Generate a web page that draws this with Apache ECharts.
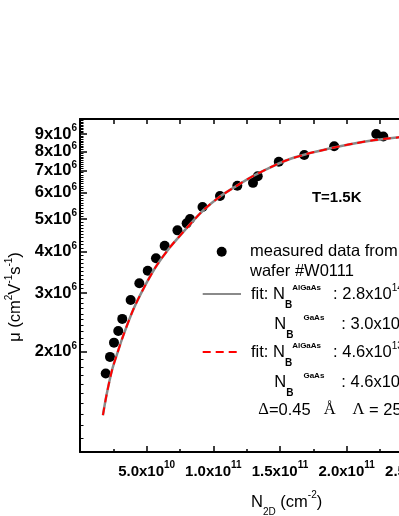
<!DOCTYPE html>
<html><head><meta charset="utf-8">
<script src="https://cdn.jsdelivr.net/npm/echarts@6/dist/echarts.min.js"></script>
<style>html,body{margin:0;padding:0;background:#fff}#c{width:399px;height:516px}</style>
</head><body><div id="c"></div>
<script>
// ---- data ----
const measuredX = [1.93e10, 2.25e10, 2.55e10, 2.87e10, 3.17e10, 3.80e10, 4.45e10, 5.08e10, 5.70e10, 6.35e10,
  7.31e10, 8.0e10, 8.25e10, 9.19e10, 1.05e11, 1.18e11, 1.2975e11, 1.333e11, 1.491e11, 1.682e11,
  1.9065e11, 2.222e11, 2.275e11];
const measuredY = [1.72e6, 1.93e6, 2.13e6, 2.31e6, 2.51e6, 2.86e6, 3.21e6, 3.50e6, 3.82e6, 4.16e6,
  4.63e6, 4.86e6, 5.01e6, 5.44e6, 5.87e6, 6.30e6, 6.43e6, 6.73e6, 7.44e6, 7.80e6,
  8.28e6, 9.02e6, 8.86e6];
const fitX = [1.72e10, 2.0e10, 2.4e10, 2.8e10, 3.25e10, 4.0e10, 4.9e10, 5.75e10, 6.75e10, 7.75e10,
  8.5e10, 9.25e10, 1.05e11, 1.175e11, 1.3e11, 1.425e11, 1.55e11, 1.7e11, 1.825e11, 1.95e11,
  2.075e11, 2.2e11, 2.325e11, 2.5e11];
const fitGrayY = [1.29e6, 1.49e6, 1.76e6, 1.98e6, 2.24e6, 2.68e6, 3.17e6, 3.63e6, 4.12e6, 4.58e6,
  4.95e6, 5.32e6, 5.85e6, 6.30e6, 6.75e6, 7.15e6, 7.52e6, 7.85e6, 8.07e6, 8.28e6,
  8.47e6, 8.63e6, 8.75e6, 8.90e6];
const fitRedY = [1.29e6, 1.49e6, 1.76e6, 1.98e6, 2.24e6, 2.68e6, 3.17e6, 3.63e6, 4.12e6, 4.58e6,
  4.95e6, 5.32e6, 5.85e6, 6.30e6, 6.75e6, 7.15e6, 7.52e6, 7.85e6, 8.07e6, 8.28e6,
  8.47e6, 8.63e6, 8.75e6, 8.90e6];
const xTickValues = [5e10, 1e11, 1.5e11, 2e11, 2.5e11, 3e11];
const xTickMantissa = ['5.0', '1.0', '1.5', '2.0', '2.5', '3.0'];
const xTickExponent = ['10', '11', '11', '11', '11', '11'];
const yTickValues = [2e6, 3e6, 4e6, 5e6, 6e6, 7e6, 8e6, 9e6];
const yTickMantissa = ['2', '3', '4', '5', '6', '7', '8', '9'];
const yTickExponent = '6';
const seriesNames = ['measured data from wafer #W0111', 'fit 1', 'fit 2'];

// ---- chart ----
const FF = '"Liberation Sans", Arial, sans-serif';
const SERIF = '"Liberation Serif", "Times New Roman", serif';
const yMinor = [];
for (let k = 11; k < 100; k++) { if (k % 10 !== 0) yMinor.push(Math.log10(k * 1e5)); }
const yTickPos = yTickValues.map(v => Math.log10(v));
const yLabelPosA = yTickPos.filter((_, i) => i % 2 === 0);
const yLabelPosB = yTickPos.filter((_, i) => i % 2 === 1);

const pairs = (xs, ys) => xs.map((x, i) => [x, ys[i]]);

const yLabelStyle = pos => ({
  customValues: pos, margin: 3, lineHeight: 12,
  showMinLabel: true, showMaxLabel: true, hideOverlap: false,
  formatter: v => { const i = yTickPos.findIndex(t => Math.abs(t - v) < 1e-6); return i < 0 ? '' : `{m|${yTickMantissa[i]}x10}{e|${yTickExponent}}`; },
  rich: {
    m: {fontSize: 16.5, fontWeight: 'bold', fontFamily: FF, color: '#000'},
    e: {fontSize: 10, fontWeight: 'bold', fontFamily: FF, color: '#000', padding: [0, 0, 11, 0]}
  }
});

const legendRich = {
  n: {fontSize: 16.5, fontFamily: FF, color: '#000'},
  sub: {fontSize: 10, fontWeight: 'bold', fontFamily: FF, color: '#000', padding: [23, 0, 0, 0]},
  sup: {fontSize: 8, fontWeight: 'bold', fontFamily: FF, color: '#000', padding: [0, 0, 12, 0]},
  sup2: {fontSize: 8, fontWeight: 'bold', fontFamily: FF, color: '#000', padding: [0, 0, 12, 10]},
  c1: {fontSize: 16.5, fontFamily: FF, color: '#000', padding: [0, 0, 0, 12]},
  c2: {fontSize: 16.5, fontFamily: FF, color: '#000', padding: [0, 0, 0, 17]},
  e: {fontSize: 10, fontFamily: FF, color: '#000', padding: [0, 0, 12, 0]},
  ind: {fontSize: 16.5, width: 23.3}
};
const legendTexts = {
  [seriesNames[0]]: '{n|measured data from}\n{n|wafer #W0111}',
  [seriesNames[1]]: '{n|fit: N}{sub|B}{sup|AlGaAs}{c1|: 2.8x10}{e|14}\n{ind| }{n|N}{sub|B}{sup2|GaAs}{c2|: 3.0x10}{e|13}',
  [seriesNames[2]]: '{n|fit: N}{sub|B}{sup|AlGaAs}{c1|: 4.6x10}{e|13}\n{ind| }{n|N}{sub|B}{sup2|GaAs}{c2|: 4.6x10}{e|13}'
};

const chart = echarts.init(document.getElementById('c'), null, {renderer: 'canvas'});
chart.setOption({
  animation: false,
  backgroundColor: '#fff',
  grid: {left: 80, top: 119, width: 413.3, height: 333, containLabel: false, outerBoundsMode: 'none'},
  xAxis: [{
    type: 'value', min: 0, max: 3.1e11, interval: 5e10, position: 'bottom',
    axisLine: {show: true, lineStyle: {color: '#000', width: 2}},
    axisTick: {show: true, inside: true, length: 6, lineStyle: {color: '#000', width: 1.5}},
    minorTick: {show: true, splitNumber: 2, length: 3, lineStyle: {color: '#000', width: 1.5}},
    splitLine: {show: false},
    axisLabel: {
      customValues: xTickValues, margin: 8, lineHeight: 24, hideOverlap: false,
      formatter: v => { const i = xTickValues.findIndex(t => Math.abs(t - v) < 1); return i < 0 ? '' : `{m|${xTickMantissa[i]}x10}{e|${xTickExponent[i]}}`; },
      rich: {
        m: {fontSize: 15, fontWeight: 'bold', fontFamily: FF, color: '#000'},
        e: {fontSize: 10, fontWeight: 'bold', fontFamily: FF, color: '#000', padding: [0, 0, 13, 0]}
      }
    },
    name: '{m|N}{s|2D}{m| (cm}{e|-2}{m|)}', nameLocation: 'middle', nameGap: 38.5,
    nameTextStyle: {
      lineHeight: 24,
      rich: {
        m: {fontSize: 16.5, fontFamily: FF, color: '#000'},
        s: {fontSize: 10, fontFamily: FF, color: '#000', padding: [20, 0, 0, 0]},
        e: {fontSize: 10, fontFamily: FF, color: '#000', padding: [0, 0, 14, 0]}
      }
    }
  }, {
    type: 'value', min: 0, max: 3.1e11, interval: 2.5e10, position: 'top',
    axisLine: {show: true, lineStyle: {color: '#000', width: 2}},
    axisTick: {show: true, inside: true, length: 5, lineStyle: {color: '#000', width: 1.5}},
    axisLabel: {show: false}, splitLine: {show: false}
  }],
  yAxis: [{
    type: 'log', logBase: 10, min: 1e6, max: 1e7, position: 'left',
    axisLine: {show: true, lineStyle: {color: '#000', width: 2}},
    axisTick: {show: false}, axisLabel: {show: false}, splitLine: {show: false}, minorTick: {show: false}
  }, {
    type: 'value', min: 6, max: 7, position: 'left',
    axisLine: {show: false}, splitLine: {show: false},
    axisTick: {show: true, inside: true, length: 7, customValues: yTickPos, lineStyle: {color: '#000', width: 1.5}},
    axisLabel: yLabelStyle(yLabelPosA)
  }, {
    type: 'value', min: 6, max: 7, position: 'left',
    axisLine: {show: false}, splitLine: {show: false}, axisTick: {show: false},
    axisLabel: yLabelStyle(yLabelPosB)
  }, {
    type: 'value', min: 6, max: 7, position: 'left',
    axisLine: {show: false}, splitLine: {show: false}, axisLabel: {show: false},
    axisTick: {show: true, inside: true, length: 3.5, customValues: yMinor, lineStyle: {color: '#000', width: 1}}
  }],
  legend: [{
    data: [seriesNames[0]], orient: 'vertical', left: 216.7, top: 221.7, padding: 0, selectedMode: false,
    itemWidth: 10, itemHeight: 10, icon: 'circle', itemStyle: {opacity: 1},
    formatter: n => legendTexts[n],
    textStyle: {fontSize: 16.5, fontFamily: FF, color: '#000', lineHeight: 20, padding: [20, 0, 0, 18.3], rich: legendRich}
  }, {
    data: [seriesNames[1]], orient: 'vertical', left: 201.7, top: 249, padding: 0, selectedMode: false,
    itemWidth: 38.3, itemHeight: 14, itemStyle: {opacity: 0, color: 'rgba(0,0,0,0)', borderWidth: 0},
    formatter: n => legendTexts[n],
    textStyle: {fontSize: 16.5, fontFamily: FF, color: '#000', lineHeight: 30, padding: [30, 0, 0, 5], rich: legendRich}
  }, {
    data: [seriesNames[2]], orient: 'vertical', left: 201.7, top: 307, padding: 0, selectedMode: false,
    itemWidth: 38.3, itemHeight: 14, itemStyle: {opacity: 0, color: 'rgba(0,0,0,0)', borderWidth: 0},
    formatter: n => legendTexts[n],
    textStyle: {fontSize: 16.5, fontFamily: FF, color: '#000', lineHeight: 30, padding: [30, 0, 0, 5], rich: legendRich}
  }],
  graphic: [{
    type: 'text', x: 336.7, y: 198,
    style: {text: 'T=1.5K', align: 'center', verticalAlign: 'middle', fontSize: 15, fontWeight: 'bold', fontFamily: FF, fill: '#000'}
  }, {
    type: 'text', x: 258.3, y: 410,
    style: {
      text: '{g|Δ}{t|=0.45}{a|Å}{l|Λ}{t| = 25}', align: 'left', verticalAlign: 'middle',
      rich: {
        g: {fontSize: 16.5, fontFamily: SERIF, fill: '#000'},
        a: {fontSize: 16.5, fontFamily: SERIF, fill: '#000', padding: [0, 0, 0, 13]},
        l: {fontSize: 16.5, fontFamily: SERIF, fill: '#000', padding: [0, 0, 0, 17]},
        t: {fontSize: 16.5, fontFamily: FF, fill: '#000'}
      }
    }
  }, {
    type: 'text', x: 15.5, y: 297, rotation: Math.PI / 2,
    style: {
      text: '{m|μ (cm}{e|2}{m|V}{e|-1}{m|s}{e|-1}{m|)}', align: 'center', verticalAlign: 'middle',
      rich: {
        m: {fontSize: 16.5, fontFamily: FF, fill: '#000'},
        e: {fontSize: 10, fontFamily: FF, fill: '#000', padding: [0, 0, 12, 0]}
      }
    }
  }],
  series: [{
    name: seriesNames[0], type: 'scatter', xAxisIndex: 0, yAxisIndex: 0,
    data: pairs(measuredX, measuredY), symbol: 'circle', symbolSize: 10,
    itemStyle: {color: '#000', opacity: 1}
  }, {
    name: seriesNames[1], type: 'line', xAxisIndex: 0, yAxisIndex: 0,
    data: pairs(fitX, fitGrayY), symbol: 'none', smooth: 0.3,
    lineStyle: {color: '#8a8a8a', width: 2.5}, itemStyle: {color: '#8a8a8a'}
  }, {
    name: seriesNames[2], type: 'line', xAxisIndex: 0, yAxisIndex: 0,
    data: pairs(fitX, fitRedY), symbol: 'none', smooth: 0.3,
    lineStyle: {color: '#ff0000', width: 2, type: [8, 5]}, itemStyle: {color: '#ff0000'}
  }]
});
</script>
</body></html>
